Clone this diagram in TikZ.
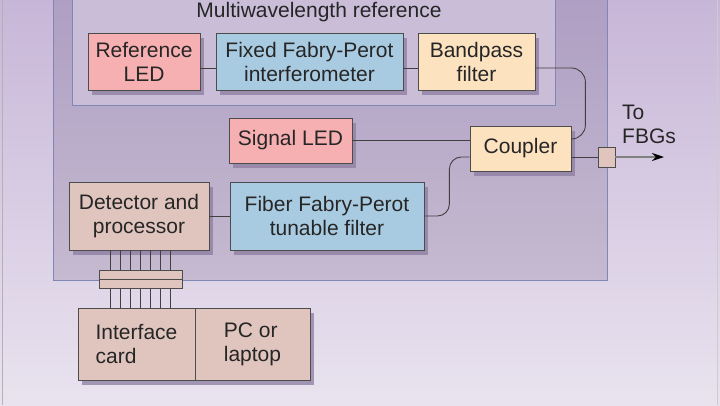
\documentclass[tikz,border=0pt]{standalone}
\usepackage{fontspec}
\setmainfont{Liberation Sans}
\usetikzlibrary{shadows,arrows.meta}
\definecolor{bgtop}{HTML}{C8B6D8}
\definecolor{bgbot}{HTML}{E9E3EF}
\definecolor{outertop}{HTML}{AE9EC3}
\definecolor{outerbot}{HTML}{C5BAD0}
\definecolor{innerfill}{HTML}{C9BDD8}
\definecolor{frameblue}{HTML}{7F88B4}
\definecolor{ledpink}{HTML}{F7B0B2}
\definecolor{fpblue}{HTML}{A9CBE1}
\definecolor{filtpeach}{HTML}{FCE2BF}
\definecolor{procrose}{HTML}{E0C5BE}
\definecolor{shadowpurple}{HTML}{8C7CA0}

\begin{document}
\begin{tikzpicture}[x=1pt,y=-1pt]
    \tikzstyle{unit}=[draw=black!70, line width=0.8pt, align=center, inner sep=0pt,
      font=\fontsize{21}{24}\selectfont, text=black!85,
      drop shadow={shadow xshift=4pt, shadow yshift=-5pt, fill=shadowpurple, opacity=0.75}]
    \tikzstyle{plug}=[draw=black!70, line width=0.8pt, fill=procrose, inner sep=0pt]
    \tikzstyle{fiber}=[draw=black!75, line width=0.9pt]
    \useasboundingbox (0,0) rectangle (720,405);
    \shade[top color=bgtop, bottom color=bgbot] (0,0) rectangle (720,405);
    \draw[black!30] (2.5,0) -- (2.5,405);
    \draw[black!20] (717.5,0) -- (717.5,405);
    \shade[top color=outertop, bottom color=outerbot, draw=frameblue, line width=0.9pt] (53,-10) rectangle (607,280);
    \filldraw[fill=innerfill, draw=frameblue, line width=0.9pt] (72,-10) rectangle (555,105);
    \node[text=black!85] (mwref) at (319,12){\fontsize{21}{24}\selectfont Multiwavelength reference};

    \node[unit, fill=ledpink, minimum width=112pt, minimum height=57pt] (refled) at (144,61.5){Reference\\LED};
    \node[unit, fill=fpblue, minimum width=187pt, minimum height=57pt] (fixfp) at (309.5,61.5){Fixed Fabry-Perot\\interferometer};
    \node[unit, fill=filtpeach, minimum width=117pt, minimum height=57pt] (bpf) at (476.5,61.5){Bandpass\\filter};
    \node[unit, fill=ledpink, minimum width=123pt, minimum height=45pt] (sigled) at (290.5,140.5){Signal LED};
    \node[unit, fill=filtpeach, minimum width=101pt, minimum height=45pt] (coupler) at (520.5,148.5){Coupler};
    \node[unit, fill=procrose, minimum width=140pt, minimum height=68pt] (detector) at (139,216){Detector and\\processor};
    \node[unit, fill=fpblue, minimum width=194pt, minimum height=68pt] (fiberfp) at (327,216){Fiber Fabry-Perot\\tunable filter};
    \node[unit, fill=procrose, minimum width=117pt, minimum height=72pt, align=left] (iface) at (136.5,344){Interface\\card};
    \node[unit, fill=procrose, minimum width=115pt, minimum height=72pt, align=left] (pc) at (252.5,344){PC or\\laptop};

    \draw[fiber] ([yshift=-6.5pt]refled.east) -- ([yshift=-6.5pt]fixfp.west);
    \draw[fiber] ([yshift=-6.5pt]fixfp.east) -- ([yshift=-6.5pt]bpf.west);
    \draw[fiber, rounded corners=14pt] ([yshift=-6.5pt]bpf.east) -| ([xshift=14pt,yshift=9.5pt]coupler.east) -- ([yshift=9.5pt]coupler.east);
    \draw[fiber] (sigled.east) -- (sigled.east -| coupler.west);
    \draw[fiber, rounded corners=12pt] (fiberfp.east) -- ++(25,0) |- ([yshift=-8.5pt]coupler.west);
    \draw[fiber] (detector) -- (fiberfp);

    % bus down to the interface card
    \foreach \x in {110,120,...,170}
      \draw[black!75, line width=0.7pt] (detector.south -| \x,0) -- (iface.north -| \x,0);
    \node[plug, minimum width=83pt, minimum height=18pt] (bus) at (140.5,279){};
    \draw[black!70, line width=0.8pt] (bus.west) -- (bus.east);

    \node[plug, minimum width=17pt, minimum height=20pt] (conn) at (606.5,157){};
    \draw[fiber] ([yshift=-8.5pt]coupler.east) -- (conn.west);
    \coordinate (fbgend) at (664,157);
    \draw[black!50, line width=1.3pt, -{Stealth[length=12pt,width=8pt,color=black]}] (conn.east) -- (fbgend);
    \node[align=left, anchor=west, inner sep=0pt, text=black!85, font=\fontsize{21}{24}\selectfont] (fbgs) at (622,124){To\\FBGs};
\end{tikzpicture}
\end{document}
